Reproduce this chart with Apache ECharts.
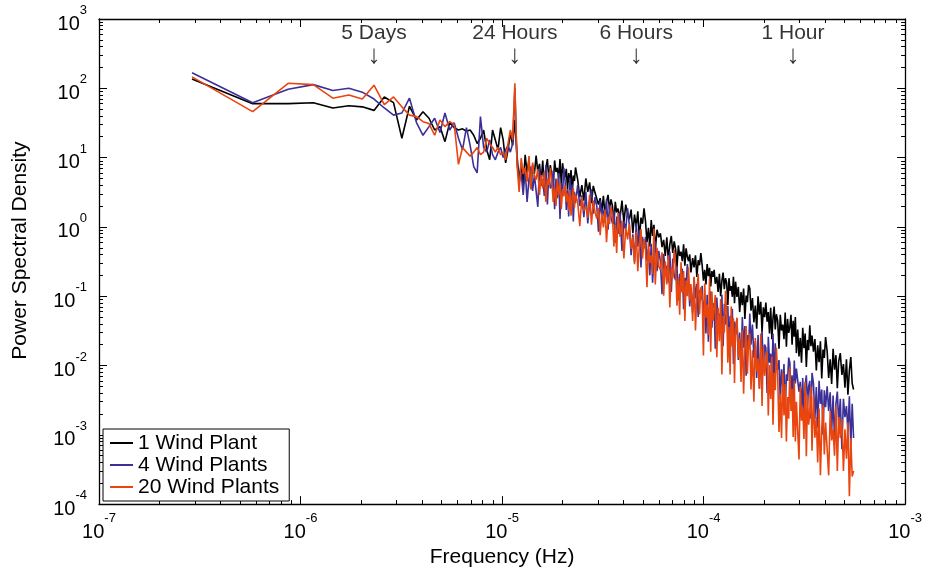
<!DOCTYPE html>
<html>
<head>
<meta charset="utf-8">
<script src="https://cdn.jsdelivr.net/npm/echarts@6/dist/echarts.min.js"></script>
<style>
  html, body { margin: 0; padding: 0; background: #fff; }
  #chart { width: 925px; height: 573px; }
</style>
</head>
<body>
<div id="chart"></div>
<script>
// spectral resolution: 1 / (40 days) in Hz
const DF = 2.894e-7;

// bin numbers (frequency = bin * DF); thinned out at high frequency
const bins = [
  1, 2, 3, 4, 5, 6, 7, 8, 9, 10, 11, 12, 13, 14, 15, 16, 17, 18, 19, 20,
  21, 22, 23, 24, 25, 26, 27, 28, 29, 30, 31, 32, 33, 34, 35, 36, 37, 38, 39, 40,
  41, 42, 43, 44, 45, 46, 47, 48, 49, 50, 51, 52, 53, 54, 55, 56, 57, 58, 59, 60,
  61, 62, 63, 64, 65, 66, 67, 68, 69, 70, 71, 72, 73, 74, 75, 76, 77, 78, 79, 80,
  82, 84, 86, 88, 90, 92, 94, 96, 98, 100, 102, 104, 106, 108, 110, 112, 114, 116, 118, 120,
  122, 124, 126, 128, 130, 133, 136, 139, 142, 145, 148, 151, 154, 157, 160, 163, 166, 169, 172, 175,
  178, 181, 184, 187, 190, 193, 196, 199, 203, 207, 211, 215, 219, 223, 227, 231, 235, 239, 243, 247,
  251, 255, 259, 263, 267, 271, 275, 279, 283, 287, 291, 295, 299, 305, 310, 315, 320, 325, 330, 335,
  340, 345, 350, 355, 360, 365, 370, 375, 380, 385, 390, 395, 402, 408, 414, 420, 426, 432, 438, 444,
  450, 456, 462, 468, 474, 480, 486, 492, 498,
  506, 514, 522, 530, 538, 546, 554, 562, 570, 578, 586, 594,
  604, 614, 624, 634, 644, 654, 664, 674, 684, 694, 704, 714, 724, 734, 744, 754, 764, 774, 784, 794,
  806, 818, 830, 842, 854, 866, 878, 890, 902, 914, 926, 938, 950, 962, 974, 986, 998,
  1013, 1028, 1043, 1058, 1073, 1088, 1103, 1118, 1133, 1148, 1163, 1178, 1193,
  1213, 1233, 1253, 1273, 1293, 1313, 1333, 1353, 1373, 1393,
  1418, 1443, 1468, 1493, 1518, 1543, 1568, 1593, 1618,
  1648, 1678, 1708, 1738, 1768, 1798, 1828, 1858, 1888, 1918
];

// 1 Wind Plant
const psd1 = [
  136, 60, 60, 62, 52, 56, 54, 48, 75, 62, 19, 55, 35, 46, 37, 25, 28, 17, 32, 27,
  25, 26, 24, 25, 21, 16, 19, 25, 13, 9.3, 25, 18, 13, 27, 18, 8.4, 13, 23, 15, 35,
  10.5, 4.8, 8.1, 4.0, 11, 6.0, 9.3, 3.5, 7.8, 5.8, 10.7, 6.2, 8.1, 4.5, 9.1, 3.7, 6.9, 9.5, 4.9, 7.8,
  7.8, 3.9, 9.1, 6.2, 7.1, 5.0, 9.5, 4.1, 8.3, 5.8, 5.2, 6.9, 3.5, 6.0, 4.2, 6.6, 2.9, 5.5, 4.6, 7.2,
  4.8, 2.7, 4.0, 2.4, 5.0, 3.2, 4.4, 2.2, 3.9, 3.1, 3.2, 2.1, 2.6, 1.66, 2.8, 1.48, 2.3, 2.9, 1.8, 2.5,
  2.0, 1.1, 2.3, 1.62, 1.84, 1.35, 2.4, 1.15, 2.1, 1.55, 1.29, 1.78, 0.81, 1.51, 1.0, 1.68, 0.66, 1.36, 1.11, 1.86,
  1.19, 0.6, 0.97, 0.52, 1.26, 0.74, 1.07, 0.47, 0.91, 0.71, 0.81, 0.51, 0.65, 0.38, 0.71, 0.33, 0.56, 0.74, 0.42, 0.62,
  0.48, 0.26, 0.54, 0.38, 0.44, 0.32, 0.56, 0.275, 0.49, 0.37, 0.32, 0.4, 0.22, 0.355, 0.26, 0.39, 0.19, 0.33, 0.28, 0.42,
  0.28, 0.168, 0.24, 0.148, 0.29, 0.195, 0.257, 0.138, 0.23, 0.19, 0.24, 0.151, 0.19, 0.115, 0.21, 0.1, 0.166, 0.219, 0.126, 0.182,
  0.155, 0.075, 0.182, 0.12, 0.14, 0.098, 0.19, 0.079, 0.162,
  0.098, 0.136, 0.059, 0.115, 0.074, 0.129, 0.047, 0.102, 0.082, 0.145, 0.129, 0.062,
  0.094, 0.042, 0.073, 0.034, 0.1, 0.054, 0.083, 0.03, 0.069, 0.05, 0.081, 0.043, 0.059, 0.029, 0.068, 0.024, 0.049, 0.071, 0.033, 0.055,
  0.044, 0.0174, 0.054, 0.032, 0.039, 0.024, 0.058, 0.0186, 0.047, 0.0295, 0.036, 0.054, 0.02, 0.044, 0.026, 0.05, 0.0151,
  0.033, 0.0135, 0.025, 0.011, 0.035, 0.0178, 0.029, 0.0095, 0.0234, 0.0166, 0.038, 0.019, 0.027,
  0.0158, 0.024, 0.0085, 0.0195, 0.0112, 0.0224, 0.0065, 0.017, 0.0129, 0.0257,
  0.0162, 0.0066, 0.0123, 0.0054, 0.0174, 0.0087, 0.0141, 0.0047, 0.0115,
  0.0151, 0.0073, 0.0105, 0.0048, 0.0123, 0.0038, 0.0085, 0.0132, 0.0055, 0.0045
];

// 4 Wind Plants
const psd4 = [
  168, 62, 97, 113, 93, 100, 88, 70, 52, 41, 44, 72, 32, 21, 28, 37, 23, 44, 25, 32,
  19, 13, 27, 15, 7.4, 6.0, 39, 14, 12, 18, 11, 9.3, 12, 14, 10, 13, 15, 12, 16, 100,
  8.5, 4.3, 6.0, 2.9, 6.9, 2.3, 4.9, 7.4, 3.3, 5.6, 5.8, 1.95, 7.2, 3.9, 4.9, 2.8, 7.8, 2.1, 6.2, 3.6,
  3.9, 6.5, 1.8, 5.0, 2.6, 6.0, 1.3, 4.3, 3.0, 7.1, 4.7, 1.76, 3.5, 1.41, 5.1, 2.4, 4.1, 1.2, 3.2, 2.2,
  4.0, 2.0, 2.85, 1.38, 3.2, 1.12, 2.3, 3.5, 1.55, 2.7, 2.0, 0.85, 2.4, 1.46, 1.76, 1.15, 2.5, 0.91, 2.1, 1.38,
  1.12, 1.74, 0.59, 1.41, 0.79, 1.62, 0.45, 1.2, 0.91, 1.86, 1.05, 0.39, 0.78, 0.31, 1.13, 0.52, 0.91, 0.26, 0.72, 0.49,
  0.72, 0.32, 0.48, 0.2, 0.57, 0.157, 0.38, 0.62, 0.23, 0.45, 0.32, 0.107, 0.41, 0.21, 0.275, 0.158, 0.44, 0.115, 0.35, 0.2,
  0.17, 0.27, 0.087, 0.21, 0.117, 0.25, 0.065, 0.184, 0.136, 0.29, 0.174, 0.071, 0.132, 0.058, 0.186, 0.093, 0.151, 0.05, 0.123, 0.087,
  0.141, 0.052, 0.087, 0.029, 0.105, 0.022, 0.065, 0.117, 0.035, 0.079, 0.071, 0.0174, 0.096, 0.043, 0.056, 0.029, 0.105, 0.019, 0.078, 0.039,
  0.039, 0.072, 0.0158, 0.052, 0.0234, 0.066, 0.0105, 0.043, 0.028,
  0.047, 0.012, 0.03, 0.0087, 0.05, 0.018, 0.037, 0.0071, 0.0275, 0.0166, 0.056, 0.02,
  0.039, 0.0129, 0.0224, 0.0066, 0.0275, 0.0047, 0.0158, 0.0316, 0.0081, 0.02, 0.018, 0.004, 0.026, 0.011, 0.0148, 0.0069, 0.029, 0.0045, 0.021, 0.0098,
  0.0087, 0.012, 0.0032, 0.0088, 0.0049, 0.0105, 0.002, 0.0075, 0.006, 0.013, 0.011, 0.0035, 0.0072, 0.0025, 0.0118, 0.0055, 0.009,
  0.0088, 0.0042, 0.0058, 0.0021, 0.0066, 0.00155, 0.0052, 0.0072, 0.0027, 0.005, 0.006, 0.0017, 0.0078,
  0.0055, 0.0017, 0.0049, 0.00126, 0.006, 0.0028, 0.0045, 0.001, 0.0044, 0.0025,
  0.005, 0.0022, 0.0041, 0.0011, 0.0037, 0.0008, 0.0028, 0.0042, 0.00145,
  0.0033, 0.00062, 0.0033, 0.0018, 0.0026, 0.0011, 0.0036, 0.00068, 0.0028, 0.0009
];

// 20 Wind Plants
const psd20 = [
  146, 46, 118, 113, 72, 80, 70, 111, 58, 75, 54, 41, 39, 33, 31, 21, 35, 28, 33, 30,
  8.0, 14, 12, 10.5, 12, 14, 11, 12, 19, 16, 14, 12, 14, 11, 12, 9.3, 16, 25, 18, 118,
  8.1, 3.2, 9.8, 5.8, 7.1, 4.5, 10.5, 3.5, 8.5, 5.4, 4.8, 6.8, 2.9, 5.6, 3.6, 6.3, 2.3, 5.0, 4.0, 7.1,
  4.6, 2.3, 3.8, 2.0, 4.9, 2.9, 4.2, 1.8, 3.5, 2.75, 4.0, 2.3, 3.05, 1.7, 3.4, 1.45, 2.6, 3.6, 1.9, 2.9,
  2.3, 1.02, 2.7, 1.72, 2.0, 1.36, 2.9, 1.08, 2.4, 1.62, 1.32, 1.88, 0.76, 1.57, 0.98, 1.78, 0.6, 1.4, 1.1, 2.0,
  1.45, 0.52, 1.07, 0.42, 1.58, 0.72, 1.23, 0.35, 0.98, 0.66, 1.1, 0.48, 0.72, 0.29, 0.85, 0.23, 0.56, 0.93, 0.35, 0.66,
  0.47, 0.135, 0.6, 0.3, 0.39, 0.21, 0.95, 0.148, 0.5, 0.27, 0.24, 0.43, 0.102, 0.32, 0.148, 0.39, 0.069, 0.26, 0.18, 0.47,
  0.28, 0.073, 0.186, 0.054, 0.31, 0.111, 0.23, 0.044, 0.168, 0.1, 0.26, 0.086, 0.15, 0.044, 0.19, 0.032, 0.107, 0.21, 0.055, 0.135,
  0.1, 0.014, 0.153, 0.049, 0.076, 0.0275, 0.178, 0.0158, 0.117, 0.044, 0.045, 0.104, 0.0132, 0.068, 0.0224, 0.091, 0.0074, 0.052, 0.03, 0.12,
  0.062, 0.011, 0.036, 0.0074, 0.071, 0.0186, 0.048, 0.0056, 0.032,
  0.049, 0.0129, 0.025, 0.0058, 0.032, 0.0039, 0.017, 0.037, 0.0076, 0.0219, 0.029, 0.0045,
  0.0166, 0.003, 0.025, 0.0081, 0.0126, 0.0046, 0.029, 0.0026, 0.019, 0.0071, 0.0068, 0.0158, 0.0019, 0.0102, 0.0033, 0.0135, 0.0014, 0.0079, 0.0044, 0.018,
  0.0071, 0.0011, 0.0039, 0.0009, 0.0079, 0.0019, 0.0054, 0.0008, 0.0035, 0.0017, 0.0093, 0.0022, 0.0046, 0.00093, 0.006, 0.0008, 0.003,
  0.0032, 0.00044, 0.005, 0.0016, 0.0025, 0.00087, 0.0058, 0.00049, 0.0038, 0.0014, 0.0021, 0.005, 0.00059,
  0.0036, 0.00091, 0.0018, 0.0004, 0.0024, 0.00026, 0.0012, 0.0027, 0.00052, 0.0015,
  0.0016, 0.00026, 0.0022, 0.00083, 0.0012, 0.0005, 0.0026, 0.0003, 0.0018,
  0.0009, 0.0017, 0.0003, 0.0012, 0.00045, 0.0015, 0.00013, 0.0009, 0.00025, 0.0003
];

const seriesNames = ['1 Wind Plant', '4 Wind Plants', '20 Wind Plants'];
const seriesColors = ['#000000', '#3c3097', '#e8450f'];

// period markers along the top
const markFreq = [2.3148e-6, 1.1574e-5, 4.6296e-5, 2.7778e-4];
const markText = ['5 Days', '24 Hours', '6 Hours', '1 Hour'];

const xDecades = [-7, -6, -5, -4, -3];
const yDecades = [-4, -3, -2, -1, 0, 1, 2, 3];

const FONT = 'Liberation Sans, Arial, Helvetica, sans-serif';

function majors(decs) {
  return decs.map(d => Math.pow(10, d));
}
function minors(decs) {
  const out = [];
  for (let i = 0; i < decs.length - 1; i++) {
    for (let m = 2; m <= 9; m++) out.push(m * Math.pow(10, decs[i]));
  }
  return out;
}

function powLabel(v) {
  return '{b|10}{s|' + Math.round(Math.log10(v)) + '}';
}

const labelRich = {
  b: { fontSize: 20, fontFamily: FONT, color: '#000', lineHeight: 30, verticalAlign: 'bottom' },
  s: { fontSize: 13, fontFamily: FONT, color: '#000', verticalAlign: 'top' }
};

function makeAxis(kind, pos, decs, range, opts) {
  const ax = {
    type: 'log',
    logBase: 10,
    position: pos,
    min: range[0],
    max: range[1],
    splitLine: { show: false },
    axisLine: { show: opts.line, onZero: false, lineStyle: { color: '#000', width: 1.3 } },
    axisTick: {
      show: true,
      inside: true,
      length: opts.minor ? 4 : 8,
      lineStyle: { color: '#000', width: 1 },
      customValues: opts.minor ? minors(decs) : majors(decs)
    },
    axisLabel: { show: false }
  };
  if (opts.labels) {
    ax.axisLabel = {
      show: true,
      customValues: majors(decs),
      formatter: powLabel,
      rich: labelRich,
      margin: kind === 'x' ? 8 : 12
    };
  }
  if (opts.name) {
    ax.name = opts.name;
    ax.nameLocation = 'middle';
    ax.nameGap = opts.nameGap;
    ax.nameTextStyle = { fontSize: 21, fontFamily: FONT, color: '#000', padding: opts.namePad || 0 };
  }
  return ax;
}

const xRange = [1e-7, 1e-3];
const yRange = [1e-4, 1e3];

const xAxes = [
  makeAxis('x', 'bottom', xDecades, xRange, { line: true, labels: true, name: 'Frequency (Hz)', nameGap: 33 }),
  makeAxis('x', 'bottom', xDecades, xRange, { line: false, minor: true }),
  makeAxis('x', 'top', xDecades, xRange, { line: true }),
  makeAxis('x', 'top', xDecades, xRange, { line: false, minor: true })
];
const yAxes = [
  makeAxis('y', 'left', yDecades, yRange, { line: true, labels: true, name: 'Power Spectral Density', nameGap: 68, namePad: [0, 0, 0, 22] }),
  makeAxis('y', 'left', yDecades, yRange, { line: false, minor: true }),
  makeAxis('y', 'right', yDecades, yRange, { line: true }),
  makeAxis('y', 'right', yDecades, yRange, { line: false, minor: true })
];

const allPsd = [psd1, psd4, psd20];
const lineSeries = allPsd.map((vals, i) => ({
  name: seriesNames[i],
  type: 'line',
  xAxisIndex: 0,
  yAxisIndex: 0,
  data: bins.map((b, j) => [b * DF, vals[j]]),
  showSymbol: false,
  symbol: 'none',
  lineStyle: { color: seriesColors[i], width: 1.6 },
  itemStyle: { color: seriesColors[i] },
  z: 2 + i
}));

const markSeries = {
  name: 'periods',
  type: 'scatter',
  xAxisIndex: 0,
  yAxisIndex: 0,
  symbolSize: 0,
  silent: true,
  data: markFreq.map((f, i) => ({ name: markText[i], value: [f, 422] })),
  label: {
    show: true,
    position: 'inside',
    formatter: p => '{t|' + p.name + '}\n{a|\u2193}',
    rich: {
      t: { fontSize: 21, lineHeight: 22, fontFamily: FONT, color: '#000' },
      a: { fontSize: 26, lineHeight: 24, fontFamily: FONT, color: '#000' }
    }
  },
  z: 10
};

const chart = echarts.init(document.getElementById('chart'), null, { renderer: 'canvas' });
chart.setOption({
  animation: false,
  backgroundColor: '#fff',
  grid: { left: 99, right: 18, top: 19, bottom: 68, containLabel: false },
  xAxis: xAxes,
  yAxis: yAxes,
  legend: {
    data: seriesNames,
    orient: 'vertical',
    left: 103,
    top: 429,
    icon: 'rect',
    itemWidth: 23,
    itemHeight: 2,
    itemGap: 0,
    padding: [3, 10, 3, 7],
    backgroundColor: '#fff',
    borderColor: '#000',
    borderWidth: 1,
    borderRadius: 0,
    textStyle: { fontSize: 21, fontFamily: FONT, color: '#000', lineHeight: 22 }
  },
  series: lineSeries.concat([markSeries])
});
</script>
</body>
</html>
